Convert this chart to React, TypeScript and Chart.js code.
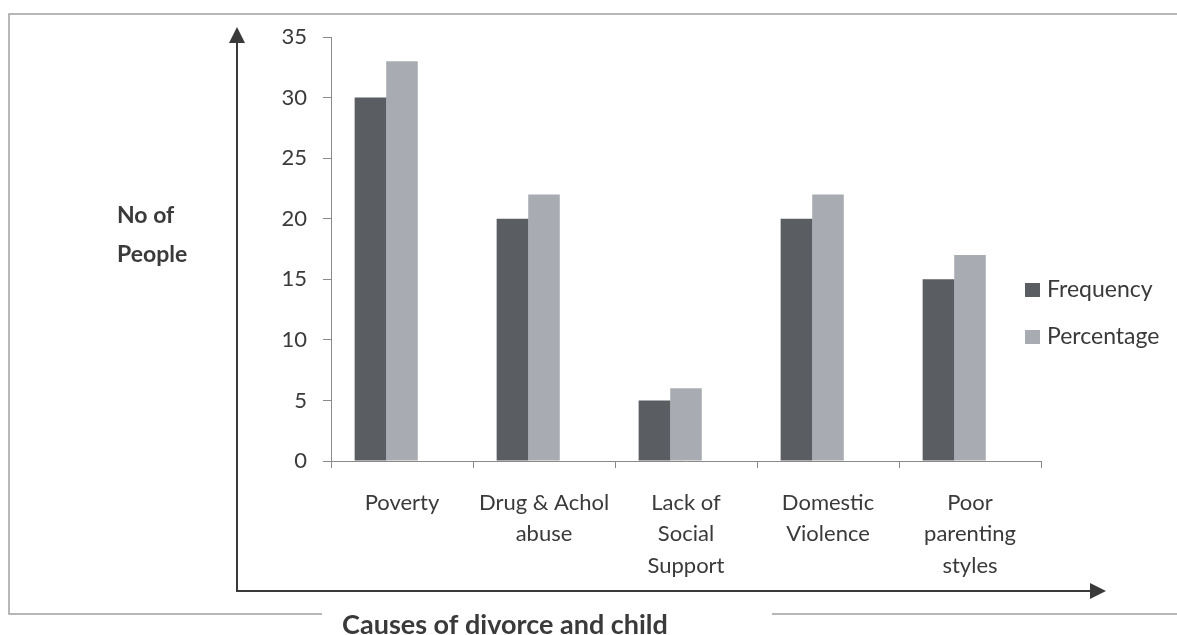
import React, { useEffect, useRef } from "react";
import { Chart, registerables } from "chart.js";

Chart.register(...registerables);

const categories: (string | string[])[] = [
  "Poverty",
  ["Drug & Achol", "abuse"],
  ["Lack of", "Social", "Support"],
  ["Domestic", "Violence"],
  ["Poor", "parenting", "styles"],
];
const frequency = [30, 20, 5, 20, 15];
const percentage = [33, 22, 6, 22, 17];
const emptySeries = [null, null, null, null, null];
const seriesNames = ["Frequency", "Percentage"];
const yTitleLines = ["No of", "People"];
const xTitle = "Causes of divorce and child";

const DARK = "#5a5d62";
const LIGHT = "#a8acb2";
const TEXT = "#3a3a3a";
const FONT = "Lato, 'Open Sans', sans-serif";

const decor = {
  id: "decor",
  beforeDraw(chart: any) {
    const ctx = chart.ctx as CanvasRenderingContext2D;
    ctx.save();
    ctx.fillStyle = "#ffffff";
    ctx.fillRect(0, 0, chart.width, chart.height);
    // frame of the scanned figure
    ctx.strokeStyle = "#a0a0a0";
    ctx.lineWidth = 1.5;
    ctx.beginPath();
    ctx.moveTo(1177, 14);
    ctx.lineTo(9, 14);
    ctx.lineTo(9, 614);
    ctx.lineTo(322, 614);
    ctx.moveTo(772, 614);
    ctx.lineTo(1177, 614);
    ctx.stroke();
    ctx.restore();
  },
  afterDraw(chart: any) {
    const ctx = chart.ctx as CanvasRenderingContext2D;
    ctx.save();
    // arrows
    ctx.strokeStyle = "#3a3a3a";
    ctx.fillStyle = "#3a3a3a";
    ctx.lineWidth = 2;
    ctx.beginPath();
    ctx.moveTo(237, 40);
    ctx.lineTo(237, 591);
    ctx.lineTo(1092, 591);
    ctx.stroke();
    ctx.beginPath();
    ctx.moveTo(237, 27);
    ctx.lineTo(229, 43);
    ctx.lineTo(245, 43);
    ctx.closePath();
    ctx.fill();
    ctx.beginPath();
    ctx.moveTo(1106, 591);
    ctx.lineTo(1090, 583);
    ctx.lineTo(1090, 599);
    ctx.closePath();
    ctx.fill();

    // axis titles
    ctx.fillStyle = TEXT;
    ctx.font = `bold 23px ${FONT}`;
    ctx.textAlign = "left";
    ctx.textBaseline = "alphabetic";
    ctx.fillText(yTitleLines[0], 117, 223);
    ctx.fillText(yTitleLines[1], 117, 262);
    ctx.font = `bold 27px ${FONT}`;
    ctx.textAlign = "center";
    ctx.fillText(xTitle, 505, 634);

    // legend
    const colors = [DARK, LIGHT];
    const ys = [290, 337];
    ctx.font = `23px ${FONT}`;
    ctx.textAlign = "left";
    ctx.textBaseline = "middle";
    seriesNames.forEach((name, i) => {
      ctx.fillStyle = colors[i];
      ctx.fillRect(1025, ys[i] - 7, 15, 14);
      ctx.fillStyle = TEXT;
      ctx.fillText(name, 1047, ys[i]);
    });
    ctx.restore();
  },
};

export default function App() {
  const ref = useRef<HTMLCanvasElement>(null);
  useEffect(() => {
    if (!ref.current) return;
    const chart = new Chart(ref.current, {
      type: "bar",
      data: {
        labels: categories,
        datasets: [
          { label: seriesNames[0], data: frequency, backgroundColor: DARK },
          { label: seriesNames[1], data: percentage, backgroundColor: LIGHT },
          { label: "", data: emptySeries as any, backgroundColor: "transparent" },
        ],
      },
      options: {
        responsive: false,
        animation: false,
        layout: { padding: { left: 0, top: 37, right: 136, bottom: 0 } },
        datasets: { bar: { categoryPercentage: 0.667, barPercentage: 1 } },
        plugins: { legend: { display: false }, tooltip: { enabled: false } },
        scales: {
          x: {
            afterFit(scale: any) {
              scale.height = 635 - 37 - 424;
            },
            grid: { drawOnChartArea: false, drawTicks: true, tickLength: 7, color: "#8a8a8a", offset: true },
            border: { display: true, color: "#8a8a8a", width: 1 },
            ticks: {
              color: TEXT,
              font: { family: FONT, size: 22, lineHeight: 1.43 },
              padding: 19,
              maxRotation: 0,
              autoSkip: false,
            },
          },
          y: {
            min: 0,
            max: 35,
            afterFit(scale: any) {
              scale.width = 331;
            },
            grid: { drawOnChartArea: false, drawTicks: true, tickLength: 8, color: "#8a8a8a" },
            border: { display: true, color: "#8a8a8a", width: 1 },
            ticks: {
              stepSize: 5,
              color: TEXT,
              font: { family: FONT, size: 22 },
              padding: 16,
            },
          },
        },
      },
      plugins: [decor],
    });
    return () => chart.destroy();
  }, []);
  return (
    <div style={{ position: "absolute", left: 0, top: 0, width: 1177, height: 635, background: "#fff" }}>
      <canvas ref={ref} width={1177} height={635} />
    </div>
  );
}
